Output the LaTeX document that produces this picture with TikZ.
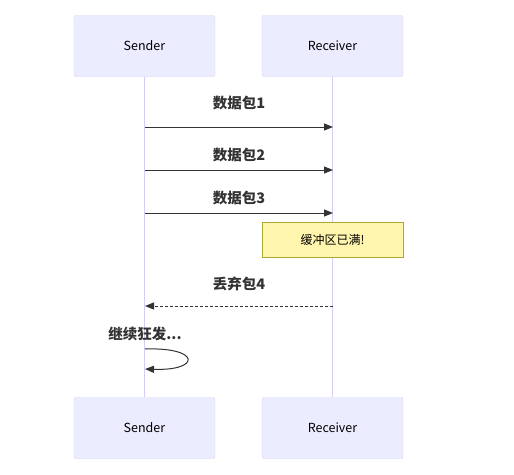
\documentclass[tikz,border=0pt]{standalone}
\usepackage{fontspec}
\setmainfont{Noto Sans CJK SC}
\usetikzlibrary{arrows.meta}
\definecolor{actfill}{HTML}{ECECFF}
\definecolor{actline}{HTML}{D6D2F4}
\definecolor{lifeln}{HTML}{D4CCF4}
\definecolor{msgcol}{HTML}{333333}
\definecolor{notefill}{HTML}{FFF5AD}
\definecolor{noteline}{HTML}{AAAA33}
\tikzset{
  actor/.style={draw=actline, fill=actfill, rounded corners=2pt, minimum width=141pt, minimum height=61pt, inner sep=0pt, font=\fontsize{12.5}{14}\selectfont, text=black},
  lifeline/.style={draw=lifeln, line width=1.2pt},
  msg/.style={draw=msgcol, line width=1pt, -{Triangle[length=9pt,width=7pt]}},
  msglabel/.style={font=\fontsize{14.5}{16}\selectfont\bfseries, text=msgcol},
  note/.style={draw=noteline, fill=notefill, minimum width=141pt, minimum height=35pt, inner sep=0pt, font=\fontsize{12}{14}\selectfont, text=black}
}
\begin{document}
\begin{tikzpicture}[x=1pt,y=-1pt]
\useasboundingbox (0,0) rectangle (514,474);
\node[actor] (s1) at (144.5,46) {Sender};
\node[actor] (r1) at (332.5,46) {Receiver};
\node[actor] (s2) at (144.5,428) {Sender};
\node[actor] (r2) at (332.5,428) {Receiver};
\draw[lifeline] (s1.south) -- (s2.north);
\draw[lifeline] (r1.south) -- (r2.north);
\coordinate (a1) at (145,127); \coordinate (b1) at (333,127);
\coordinate (a2) at (145,170); \coordinate (b2) at (333,170);
\coordinate (a3) at (145,213); \coordinate (b3) at (333,213);
\coordinate (a4) at (145,306); \coordinate (b4) at (333,306);
\coordinate (l1) at (145,349); \coordinate (l2) at (145,369);
\draw[msg] (a1) -- (b1);
\node[msglabel] (t1) at (239,103) {数据包1};
\draw[msg] (a2) -- (b2);
\node[msglabel] (t2) at (239,155) {数据包2};
\draw[msg] (a3) -- (b3);
\node[msglabel] (t3) at (239,198) {数据包3};
\node[note] (n1) at (332.5,239.5) {缓冲区已满!};
\draw[msg, dash pattern=on 3pt off 2pt] (b4) -- (a4);
\node[msglabel] (t4) at (239,284) {丢弃包4};
\draw[msg] (l1) .. controls (201,347) and (201,371) .. (l2);
\node[msglabel] (t5) at (145,334) {继续狂发...};
\end{tikzpicture}
\end{document}
